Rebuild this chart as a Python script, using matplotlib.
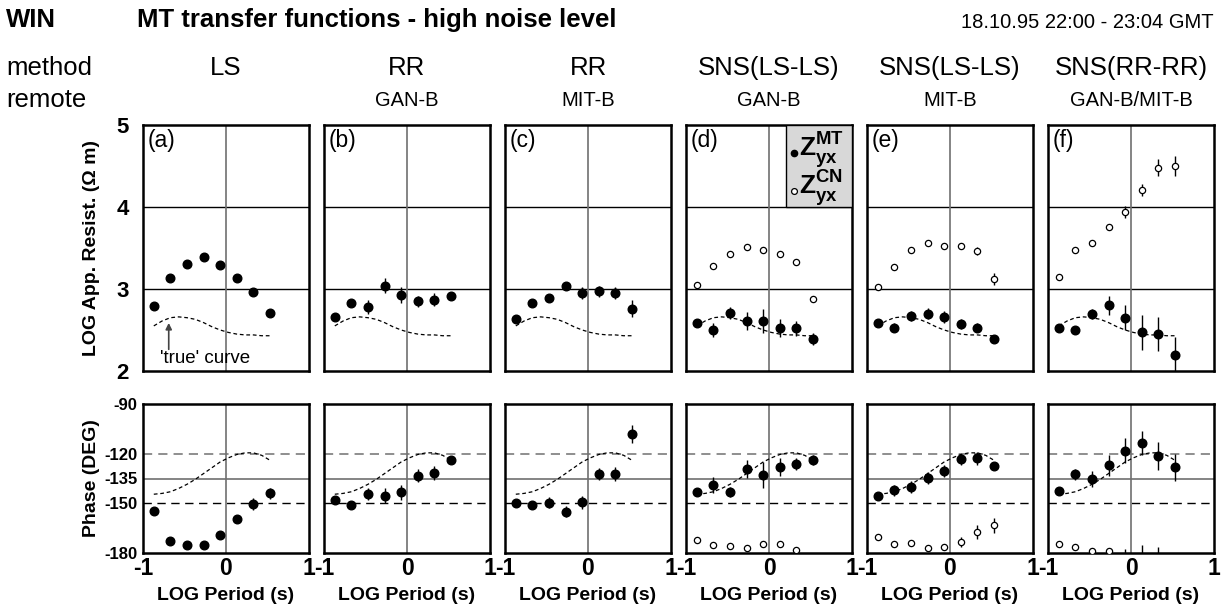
import numpy as np
import matplotlib
matplotlib.use("Agg")
import matplotlib.pyplot as plt
from matplotlib.patches import Rectangle

plt.rcParams["font.family"] = ["Liberation Sans", "DejaVu Sans"]
plt.rcParams["mathtext.fontset"] = "custom"
plt.rcParams["mathtext.rm"] = "Liberation Sans"
plt.rcParams["mathtext.bf"] = "Liberation Sans:bold"

# ── DATA ─────────────────────────────────────────────────────
log_period = [-0.87, -0.67, -0.47, -0.27, -0.07, 0.13, 0.33, 0.53]

methods = ["LS", "RR", "RR", "SNS(LS-LS)", "SNS(LS-LS)", "SNS(RR-RR)"]
remotes = ["", "GAN-B", "MIT-B", "GAN-B", "MIT-B", "GAN-B/MIT-B"]
panel_tags = ["(a)", "(b)", "(c)", "(d)", "(e)", "(f)"]

# 'true' curve
true_x = [-0.87, -0.77, -0.67, -0.57, -0.47, -0.37, -0.27, -0.17, -0.07,
          0.03, 0.13, 0.23, 0.33, 0.43, 0.53]
true_rho = [2.55, 2.61, 2.65, 2.66, 2.65, 2.63, 2.59, 2.54, 2.50,
            2.47, 2.45, 2.44, 2.44, 2.43, 2.43]
true_phi = [-144.5, -144, -143, -141, -138.5, -135.5, -132, -128.5, -125,
            -122.5, -120.5, -119.5, -119.5, -121, -124]

# log apparent resistivity, Z_yx MT (filled) and CN (open)
rho_mt = [
    [2.79, 3.13, 3.31, 3.39, 3.29, 3.14, 2.96, 2.71],
    [2.66, 2.83, 2.78, 3.04, 2.93, 2.85, 2.87, 2.91],
    [2.64, 2.83, 2.89, 3.04, 2.95, 2.97, 2.95, 2.76],
    [2.59, 2.50, 2.71, 2.61, 2.61, 2.52, 2.52, 2.39],
    [2.59, 2.53, 2.67, 2.70, 2.66, 2.57, 2.53, 2.39],
    [2.53, 2.50, 2.70, 2.80, 2.65, 2.47, 2.45, 2.20],
]
rho_mt_err = [
    [0, 0, 0, 0, 0, 0, 0, 0],
    [0.02, 0.03, 0.08, 0.09, 0.10, 0.07, 0.08, 0.03],
    [0.02, 0.02, 0.03, 0.03, 0.07, 0.07, 0.07, 0.10],
    [0.02, 0.09, 0.07, 0.11, 0.15, 0.11, 0.09, 0.07],
    [0.03, 0.06, 0.06, 0.07, 0.07, 0.06, 0.05, 0.02],
    [0.02, 0.05, 0.06, 0.12, 0.15, 0.21, 0.21, 0.21],
]
rho_cn = [
    None, None, None,
    [3.05, 3.28, 3.43, 3.51, 3.47, 3.43, 3.33, 2.88],
    [3.02, 3.27, 3.48, 3.56, 3.53, 3.52, 3.46, 3.12],
    [3.15, 3.48, 3.56, 3.76, 3.94, 4.21, 4.48, 4.50],
]
rho_cn_err = [
    None, None, None,
    [0, 0, 0, 0, 0, 0, 0, 0],
    [0, 0, 0, 0, 0, 0, 0.05, 0.07],
    [0, 0, 0, 0, 0.07, 0.07, 0.10, 0.12],
]

# phase (deg)
phi_mt = [
    [-154.5, -172.6, -175, -175, -169, -159.5, -150.4, -144],
    [-148, -151.2, -144.4, -145.4, -143.4, -133.3, -131.9, -124],
    [-149.6, -151.2, -149.6, -155.1, -149.4, -132.3, -132.3, -108.1],
    [-143.4, -139, -143, -129.1, -132.9, -127.9, -126.3, -123.8],
    [-145.4, -142, -140, -134.5, -130.3, -123.4, -122.8, -127.3],
    [-142.4, -132.5, -135.3, -126.9, -118.2, -113.8, -121.6, -128.2],
]
phi_mt_err = [
    [0, 0, 0, 0, 0, 0, 3.5, 3.3],
    [1, 1, 3.5, 4.7, 4.7, 4, 4.3, 1],
    [1, 1, 3.2, 3.3, 4, 3.5, 4, 5.7],
    [1, 4.8, 3, 5.4, 7.8, 5.5, 3.8, 3.2],
    [1, 3.3, 3.5, 3.7, 3.5, 3.5, 4, 1],
    [1, 3.5, 4.8, 6.3, 7.5, 7.2, 8.4, 8.3],
]
phi_cn = [
    None, None, None,
    [-172.2, -175, -175.8, -177.2, -174.8, -174.6, -178.2, np.nan],
    [-170.2, -174.8, -173.8, -177.2, -176.6, -173.4, -167.3, -163.3],
    [-174.6, -176.6, -178.6, -178.6, -184, -184, -184, np.nan],
]
phi_cn_err = [
    None, None, None,
    [0, 0, 0, 0, 0, 0, 0, 0],
    [0, 0, 0, 0, 0, 3, 4.5, 4.7],
    [0, 0, 0, 0, 6.4, 8.8, 7.8, 0],
]

# ── LAYOUT (pixels of the 1227x606 figure) ───────────────────
W, H = 1227, 606
fig = plt.figure(figsize=(W / 100, H / 100), dpi=100)

def fx(px):
    return px / W

def fy(py):
    return 1 - py / H

PANEL_W = 166
LEFTS = [143 + i * 181 for i in range(6)]
TOP_Y0, TOP_Y1 = 125, 371
BOT_Y0, BOT_Y1 = 404, 553

GRID_GRAY = "#707070"

def style_frame(ax):
    for s in ax.spines.values():
        s.set_linewidth(1.8)
    ax.tick_params(length=0)

for i in range(6):
    left = LEFTS[i]
    ax_r = fig.add_axes([fx(left), fy(TOP_Y1), fx(PANEL_W), (TOP_Y1 - TOP_Y0) / H])
    ax_p = fig.add_axes([fx(left), fy(BOT_Y1), fx(PANEL_W), (BOT_Y1 - BOT_Y0) / H])

    # --- resistivity panel ---
    ax_r.set_xlim(-1, 1)
    ax_r.set_ylim(2, 5)
    ax_r.axhline(3, color="black", lw=1.0, zorder=1)
    ax_r.axhline(4, color="black", lw=1.0, zorder=1)
    ax_r.axvline(0, color=GRID_GRAY, lw=1.2, zorder=1)
    ax_r.plot(true_x, true_rho, color="black", lw=0.9, ls=(0, (3, 2.2)), zorder=2)
    if rho_cn[i] is not None:
        ax_r.errorbar(log_period, rho_cn[i], yerr=rho_cn_err[i], fmt="o", ms=4.5,
                      mfc="white", mec="black", mew=0.9, ecolor="black",
                      elinewidth=1.0, capsize=0, zorder=3)
    ax_r.errorbar(log_period, rho_mt[i], yerr=rho_mt_err[i], fmt="o", ms=6.2,
                  color="black", elinewidth=1.0, capsize=0, zorder=4)
    ax_r.text(-0.95, 4.95, panel_tags[i], fontsize=16.5, ha="left", va="top")
    ax_r.set_xticks([])
    ax_r.set_yticks([2, 3, 4, 5])
    style_frame(ax_r)
    if i == 0:
        ax_r.set_yticklabels(["2", "3", "4", "5"], fontsize=16, fontweight="bold")
        ax_r.tick_params(axis="y", pad=10)
    else:
        ax_r.set_yticklabels([])

    # --- phase panel ---
    ax_p.set_xlim(-1, 1)
    ax_p.set_ylim(-180, -90)
    ax_p.axhline(-135, color=GRID_GRAY, lw=1.2, zorder=1)
    ax_p.axhline(-120, color=GRID_GRAY, lw=1.1, ls=(0, (6, 4)), zorder=1)
    ax_p.axhline(-150, color="black", lw=1.0, ls=(0, (6, 4)), zorder=1)
    ax_p.axvline(0, color=GRID_GRAY, lw=1.2, zorder=1)
    ax_p.plot(true_x, true_phi, color="black", lw=0.9, ls=(0, (3, 2.2)), zorder=2)
    if phi_cn[i] is not None:
        ax_p.errorbar(log_period, phi_cn[i], yerr=phi_cn_err[i], fmt="o", ms=4.5,
                      mfc="white", mec="black", mew=0.9, ecolor="black",
                      elinewidth=1.0, capsize=0, zorder=3)
    ax_p.errorbar(log_period, phi_mt[i], yerr=phi_mt_err[i], fmt="o", ms=6.2,
                  color="black", elinewidth=1.0, capsize=0, zorder=4)
    ax_p.set_xticks([-1, 0, 1])
    ax_p.set_xticklabels(["-1", "0", "1"], fontsize=16.5, fontweight="bold")
    ax_p.tick_params(axis="x", pad=3)
    ax_p.set_xlabel("LOG Period (s)", fontsize=14, fontweight="bold", labelpad=5)
    ax_p.set_yticks([-180, -150, -135, -120, -90])
    style_frame(ax_p)
    if i == 0:
        ax_p.set_yticklabels(["-180", "-150", "-135", "-120", "-90"],
                             fontsize=12, fontweight="bold")
        ax_p.tick_params(axis="y", pad=4)
    else:
        ax_p.set_yticklabels([])

    # column headers
    cx = left + PANEL_W / 2
    fig.text(fx(cx), fy(68), methods[i], fontsize=18.5, ha="center", va="center")
    if remotes[i]:
        fig.text(fx(cx), fy(100), remotes[i], fontsize=14.5, ha="center", va="center")

    if i == 0:
        ax_r.annotate("", xy=(-0.69, 2.62), xytext=(-0.69, 2.23),
                      arrowprops=dict(arrowstyle="-|>", color="#444444", lw=1.2,
                                      mutation_scale=9))
        ax_r.text(-0.79, 2.15, "'true' curve", fontsize=13.5, ha="left", va="center")

    if i == 3:
        ax_r.add_patch(Rectangle((0.2, 4), 0.8, 1, facecolor="#d8d8d8",
                                 edgecolor="black", lw=1.0, zorder=5))
        ax_r.plot([0.3], [4.66], "o", ms=4.5, color="black", zorder=6)
        ax_r.plot([0.3], [4.2], "o", ms=4.2, mfc="white", mec="black",
                  mew=0.9, zorder=6)
        ax_r.text(0.36, 4.69, r"$\mathbf{Z}^{\mathbf{MT}}_{\mathbf{yx}}$",
                  fontsize=19, ha="left", va="center", zorder=7)
        ax_r.text(0.36, 4.23, r"$\mathbf{Z}^{\mathbf{CN}}_{\mathbf{yx}}$",
                  fontsize=19, ha="left", va="center", zorder=7)

# ── HEADER / AXIS TITLES ─────────────────────────────────────
fig.text(fx(6), fy(20), "WIN", fontsize=18.5, fontweight="bold", ha="left", va="center")
fig.text(fx(137), fy(20), "MT transfer functions - high noise level",
         fontsize=18.5, fontweight="bold", ha="left", va="center")
fig.text(fx(1214), fy(22), "18.10.95 22:00 - 23:04 GMT", fontsize=14.5,
         ha="right", va="center")
fig.text(fx(6), fy(68), "method", fontsize=18.5, ha="left", va="center")
fig.text(fx(6), fy(100), "remote", fontsize=18.5, ha="left", va="center")

fig.text(fx(92), fy((TOP_Y0 + TOP_Y1) / 2), "LOG App. Resist. (\u03a9 m)",
         fontsize=14, fontweight="bold", rotation=90, ha="center", va="center")
fig.text(fx(92), fy((BOT_Y0 + BOT_Y1) / 2), "Phase (DEG)",
         fontsize=14, fontweight="bold", rotation=90, ha="center", va="center")

fig.savefig("out.png", dpi=100, facecolor="white")
